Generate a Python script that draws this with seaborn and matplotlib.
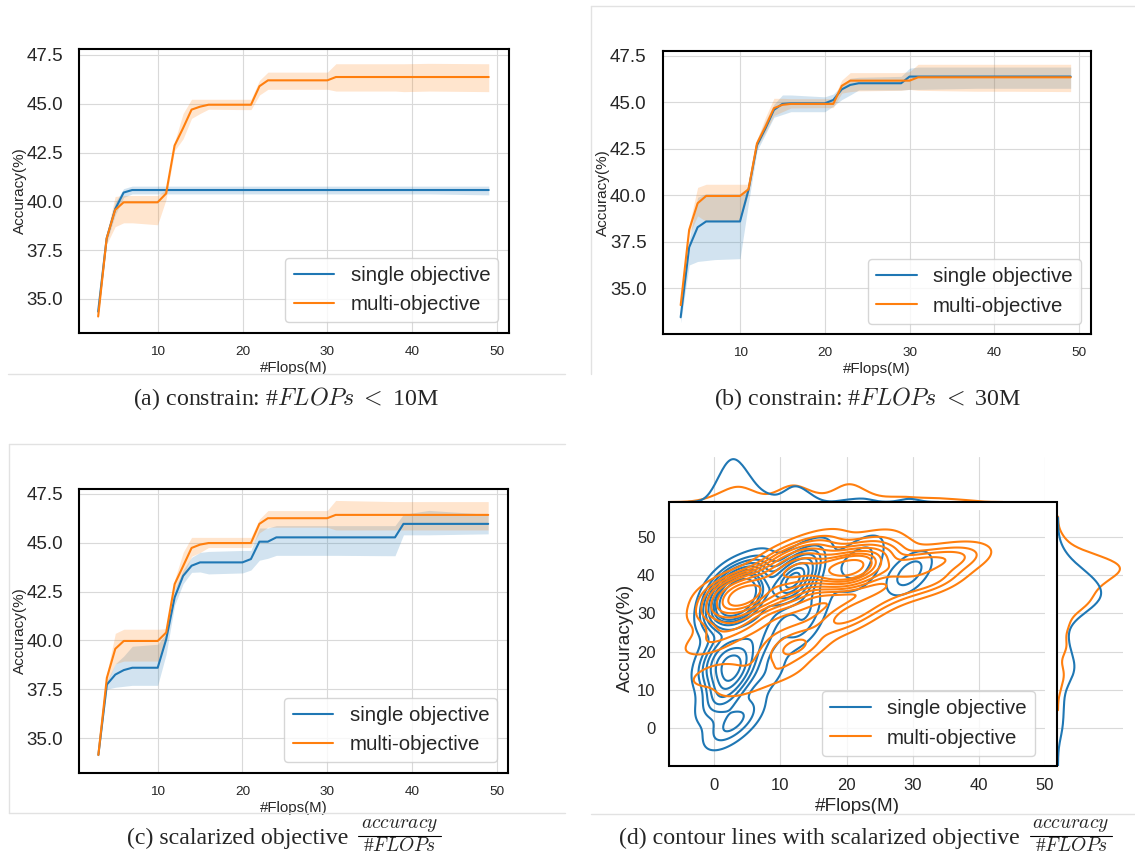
import matplotlib
matplotlib.use("Agg")
import matplotlib.pyplot as plt
from matplotlib.lines import Line2D
from matplotlib.patches import Rectangle
import seaborn as sns
import pandas as pd

# x positions (#Flops in M) where the accuracy curves change slope
FLOPS = [3, 4, 5, 6, 7, 10, 11, 12, 13, 14, 15, 16, 20, 21, 22, 23, 24, 29, 30, 31, 38, 39, 42, 49]

# (a) constrain: #FLOPs < 10M
A_SINGLE_MEAN = [34.35, 38.1, 39.6, 40.45, 40.58, 40.58, 40.58, 40.58, 40.58, 40.58, 40.58, 40.58,
                 40.58, 40.58, 40.58, 40.58, 40.58, 40.58, 40.58, 40.58, 40.58, 40.58, 40.58, 40.58]
A_SINGLE_LO = [34.2, 37.9, 39.3, 40.2, 40.38, 40.38, 40.38, 40.38, 40.38, 40.38, 40.38, 40.38,
               40.38, 40.38, 40.38, 40.38, 40.38, 40.38, 40.38, 40.38, 40.38, 40.38, 40.38, 40.33]
A_SINGLE_HI = [34.5, 38.3, 39.95, 40.65, 40.78, 40.78, 40.78, 40.78, 40.78, 40.78, 40.78, 40.78,
               40.78, 40.78, 40.78, 40.78, 40.78, 40.78, 40.78, 40.78, 40.78, 40.78, 40.78, 40.78]
A_MULTI_MEAN = [34.1, 38.1, 39.56, 39.95, 39.95, 39.95, 40.4, 42.86, 43.75, 44.7, 44.85, 44.95,
                44.95, 44.95, 45.9, 46.2, 46.2, 46.2, 46.2, 46.37, 46.37, 46.37, 46.37, 46.37]
A_MULTI_LO = [33.95, 37.8, 38.7, 38.9, 38.9, 38.8, 40.1, 42.6, 43.2, 44.25, 44.5, 44.72,
              44.7, 44.7, 45.45, 45.74, 45.74, 45.74, 45.74, 45.65, 45.65, 45.62, 45.65, 45.62]
A_MULTI_HI = [34.3, 38.35, 40.25, 40.3, 40.3, 40.3, 40.6, 43.05, 44.5, 45.23, 45.23, 45.23,
              45.23, 45.23, 46.2, 46.62, 46.62, 46.62, 46.62, 47.05, 47.05, 47.05, 47.07, 47.05]

# (b) constrain: #FLOPs < 30M
B_SINGLE_MEAN = [33.45, 37.21, 38.29, 38.6, 38.6, 38.6, 40.3, 42.7, 43.6, 44.6, 44.92, 44.95,
                 44.95, 45.13, 45.7, 45.94, 46.03, 46.03, 46.39, 46.39, 46.39, 46.39, 46.39, 46.39]
B_SINGLE_LO = [33.15, 36.26, 36.45, 36.5, 36.55, 36.6, 39.6, 42.4, 43.3, 44.2, 44.35, 44.5,
               44.5, 44.8, 45.15, 45.4, 45.67, 45.67, 45.7, 45.7, 45.76, 45.76, 45.76, 45.76]
B_SINGLE_HI = [33.7, 37.6, 39.9, 40.1, 40.1, 40.1, 40.45, 43.0, 44.0, 44.9, 45.4, 45.4,
               45.3, 45.45, 45.9, 46.3, 46.35, 46.4, 46.84, 46.9, 46.9, 46.9, 46.9, 46.9]
B_MULTI_MEAN = [34.1, 38.15, 39.58, 39.97, 39.97, 39.97, 40.33, 42.8, 43.7, 44.69, 44.87, 44.92,
                44.92, 44.92, 45.89, 46.17, 46.17, 46.17, 46.17, 46.35, 46.35, 46.35, 46.35, 46.35]
B_MULTI_LO = [33.95, 37.9, 38.9, 38.6, 38.6, 38.6, 40.1, 42.6, 43.4, 44.3, 44.5, 44.7,
              44.72, 44.72, 45.5, 45.58, 45.62, 45.65, 45.7, 45.65, 45.6, 45.6, 45.6, 45.58]
B_MULTI_HI = [34.3, 38.4, 40.43, 40.6, 40.6, 40.6, 40.6, 43.0, 44.2, 45.22, 45.22, 45.2,
              45.2, 45.2, 46.2, 46.6, 46.6, 46.6, 46.65, 47.05, 47.05, 47.05, 47.05, 47.05]

# (c) scalarized objective accuracy / #FLOPs
C_SINGLE_MEAN = [34.14, 37.74, 38.25, 38.48, 38.6, 38.6, 40.05, 42.2, 43.3, 43.82, 43.99, 43.99,
                 43.99, 44.16, 45.05, 45.05, 45.27, 45.27, 45.27, 45.27, 45.27, 45.96, 45.96, 45.96]
C_SINGLE_LO = [34.0, 37.5, 37.6, 37.65, 37.7, 37.7, 39.3, 41.8, 42.9, 43.48, 43.5, 43.4,
               43.45, 43.6, 44.1, 44.2, 44.35, 44.35, 44.35, 44.35, 44.33, 45.4, 45.4, 45.45]
C_SINGLE_HI = [34.3, 37.9, 38.8, 39.2, 39.7, 39.8, 40.35, 42.6, 43.6, 44.25, 44.5, 44.55,
               44.6, 44.6, 45.75, 45.75, 45.87, 45.87, 45.87, 45.87, 45.87, 46.45, 46.65, 46.45]
C_MULTI_MEAN = [34.14, 38.08, 39.57, 39.97, 39.97, 39.97, 40.4, 42.88, 43.8, 44.73, 44.9, 44.98,
                44.98, 44.98, 45.96, 46.25, 46.25, 46.25, 46.25, 46.42, 46.42, 46.42, 46.42, 46.42]
C_MULTI_LO = [34.0, 37.8, 38.8, 38.94, 38.94, 38.94, 40.1, 42.6, 43.3, 44.3, 44.5, 44.75,
              44.75, 44.75, 45.5, 45.79, 45.79, 45.79, 45.79, 45.65, 45.65, 45.65, 45.65, 45.65]
C_MULTI_HI = [34.3, 38.3, 40.36, 40.57, 40.57, 40.57, 40.6, 43.1, 44.5, 45.27, 45.27, 45.27,
              45.27, 45.27, 46.2, 46.64, 46.64, 46.64, 46.64, 47.16, 47.1, 47.1, 47.1, 47.1]

# (d) sampled architectures (flops, accuracy) for the density contours
SINGLE_FLOPS = [1, 2, 3, 4, 5, 3, 4, 2, 6, 5, 3, 4, 1, 6, 2, 5, 3, 4, 2, 5, 3, 4, 2, 4,
                1, 2, 3, 2, 1, 3, 4, 2, 0, 3, 1, 4,
                11, 12, 13, 12, 11, 13, 12, 12, 11,
                20, 22, 23,
                29, 30,
                1, 3, 5, 0, 2,
                7, 8, 6, 9, 8, 14, 15, 14, 13, 6]
SINGLE_ACC = [31, 34, 36, 33, 35, 38, 30, 29, 36, 32, 34, 35, 36, 31, 39, 38, 32, 33, 33, 34, 35, 37, 33, 34,
              15, 17, 16, 13, 19, 20, 15, 11, 17, 13, 22, 18,
              38, 40, 38, 36, 41, 42, 39, 38, 37,
              43, 40, 46,
              40, 41,
              -1, 1, 4, 6, 8,
              27, 22, 24, 30, 14, 30, 45, 33, 25, 42]
MULTI_FLOPS = [2, 3, 4, 5, 3, 4, 5, 2, 6, 1, 4, 3, 6, 7,
               11, 12, 13, 14, 12, 11, 13, 10, 15, 12, 14, 9, 16, 11,
               19, 20, 21, 22, 20, 19, 22, 21, 20, 23, 21, 18, 20, 21, 20,
               28, 30, 29,
               33, 36, 38, 26, 34,
               16, 24,
               0, -1, 2, 4, 11, 10, 12, 13, 20, 19, 22, 25, 28, 32, 12, 4]
MULTI_ACC = [33, 35, 34, 36, 31, 38, 33, 36, 35, 31, 32, 37, 39, 33,
             41, 43, 41, 44, 39, 45, 46, 42, 42, 37, 40, 39, 45, 36,
             41, 42, 41, 40, 44, 43, 42, 39, 45, 44, 38, 40, 42, 43, 41,
             42, 43, 41,
             44, 45, 44, 46, 39,
             49, 49,
             14, 22, 27, 11, 20, 15, 24, 21, 30, 27, 31, 34, 36, 38, 33, 27]

LABELS = ["single objective", "multi-objective"]
BLUE, ORANGE = "#1f77b4", "#ff7f0e"
W, H = 1135, 857

sns.set_style("whitegrid")
plt.rcParams["font.family"] = ["Liberation Sans", "DejaVu Sans"]
plt.rcParams["axes.edgecolor"] = "black"
plt.rcParams["grid.color"] = "#d9d9d9"
plt.rcParams["mathtext.fontset"] = "cm"

fig = plt.figure(figsize=(W / 100, H / 100), dpi=100)


def px_axes(left, top, right, bottom):
    return fig.add_axes([left / W, 1 - bottom / H, (right - left) / W, (bottom - top) / H])


def curve_panel(ax, single, multi, xlim, ylim):
    for (mean, lo, hi), color, label in [(single, BLUE, LABELS[0]), (multi, ORANGE, LABELS[1])]:
        ax.fill_between(FLOPS, lo, hi, color=color, alpha=0.2, linewidth=0)
        sns.lineplot(x=FLOPS, y=mean, ax=ax, color=color, label=label, linewidth=1.5)
    ax.set_xlim(*xlim)
    ax.set_ylim(*ylim)
    ax.set_xticks([10, 20, 30, 40, 50])
    ax.tick_params(axis="y", labelsize=13.5, pad=8)
    ax.tick_params(axis="x", labelsize=9.7, pad=6)
    ax.set_xlabel("#Flops(M)", fontsize=10.8, labelpad=2)
    ax.set_ylabel("Accuracy(%)", fontsize=11, labelpad=0)
    for s in ax.spines.values():
        s.set_linewidth(1.5)
    ax.legend(loc="lower right", fontsize=14.7)


ax_a = px_axes(79.3, 49.3, 508.7, 332.7)
curve_panel(ax_a, (A_SINGLE_MEAN, A_SINGLE_LO, A_SINGLE_HI), (A_MULTI_MEAN, A_MULTI_LO, A_MULTI_HI),
            (0.78, 51.35), (33.27, 47.79))
ax_b = px_axes(662.7, 50.7, 1091, 334)
curve_panel(ax_b, (B_SINGLE_MEAN, B_SINGLE_LO, B_SINGLE_HI), (B_MULTI_MEAN, B_MULTI_LO, B_MULTI_HI),
            (0.88, 51.4), (32.55, 47.78))
ax_c = px_axes(79.3, 488.7, 507.7, 772.7)
curve_panel(ax_c, (C_SINGLE_MEAN, C_SINGLE_LO, C_SINGLE_HI), (C_MULTI_MEAN, C_MULTI_LO, C_MULTI_HI),
            (0.75, 51.3), (33.23, 47.76))

# (d) joint density plot with marginals
df = pd.DataFrame({
    "flops": SINGLE_FLOPS + MULTI_FLOPS,
    "acc": SINGLE_ACC + MULTI_ACC,
    "method": [LABELS[0]] * len(SINGLE_FLOPS) + [LABELS[1]] * len(MULTI_FLOPS),
})
pal = {LABELS[0]: BLUE, LABELS[1]: ORANGE}

ax_j = px_axes(669.3, 510, 1045, 766)
ax_top = px_axes(669.3, 457, 1045, 502)
ax_right = px_axes(1058, 510, 1123, 766)

sns.kdeplot(data=df, x="flops", y="acc", hue="method", palette=pal, ax=ax_j,
            legend=False, linewidths=1.5, bw_adjust=0.65)
sns.kdeplot(data=df, x="flops", hue="method", palette=pal, ax=ax_top,
            legend=False, linewidth=1.5, bw_adjust=0.45)
sns.kdeplot(data=df, y="acc", hue="method", palette=pal, ax=ax_right,
            legend=False, linewidth=1.5, bw_adjust=0.6)

ax_j.set_xlim(-6.8, 50.0)
ax_j.set_ylim(-9.95, 57.07)
ax_j.set_xticks([0, 10, 20, 30, 40, 50])
ax_j.set_yticks([0, 10, 20, 30, 40, 50])
ax_j.tick_params(labelsize=12)
ax_j.tick_params(axis="y", pad=6.5)
ax_j.tick_params(axis="x", pad=5.5)
ax_j.set_xlabel("#Flops(M)", fontsize=13.7, labelpad=3)
ax_j.set_ylabel("Accuracy(%)", fontsize=13.8, labelpad=2)
for s in ax_j.spines.values():
    s.set_visible(False)
handles = [Line2D([], [], color=BLUE, lw=1.5), Line2D([], [], color=ORANGE, lw=1.5)]
ax_j.legend(handles, LABELS, loc="lower right", fontsize=14.7)

ax_top.set_xlim(-6.8, 50.0)
ax_top.set_xticks([0, 10, 20, 30, 40, 50])
ax_top.set_ylim(bottom=0)
ax_top.yaxis.grid(False)
ax_top.set(xlabel="", ylabel="")
ax_top.tick_params(labelbottom=False, labelleft=False)

ax_right.set_ylim(-9.95, 57.07)
ax_right.set_yticks([0, 10, 20, 30, 40, 50])
ax_right.set_xlim(left=0)
ax_right.xaxis.grid(False)
ax_right.set(xlabel="", ylabel="")
ax_right.tick_params(labelbottom=False, labelleft=False)
for a in (ax_top, ax_right):
    for s in a.spines.values():
        s.set_visible(False)

fig.add_artist(Rectangle((669.3 / W, 1 - 766 / H), (1056.7 - 669.3) / W, (766 - 502) / H,
                         transform=fig.transFigure, fill=False, edgecolor="black", linewidth=1.5))

# screenshot frame lines
frame = "#e2e2e2"
for (x0, y0), (x1, y1) in [((8, 374.3), (565, 374.3)),
                           ((591, 6), (1135, 6)), ((591, 6), (591, 374)),
                           ((9.3, 444.3), (565, 444.3)), ((9.3, 813), (565, 813)),
                           ((9.3, 444.3), (9.3, 813)),
                           ((591, 813.7), (1135, 813.7))]:
    fig.add_artist(Line2D([x0 / W, x1 / W], [1 - y0 / H, 1 - y1 / H], transform=fig.transFigure,
                          color=frame, linewidth=1))

# captions
cap = dict(va="baseline", fontsize=17.2, family="Liberation Serif")
fig.text(285.5 / W, 1 - 405 / H, r"(a) constrain: #$FLOPs\;<\;$10M", ha="center", **cap)
fig.text(867.7 / W, 1 - 405 / H, r"(b) constrain: #$FLOPs\;<\;$30M", ha="center", **cap)


def frac_caption(lead, left, right, baseline):
    # lead text followed by a stacked fraction accuracy / #FLOPs
    fig.text(left - 10 / W, 1 - baseline / H, lead, ha="right", **cap)
    mid = (left + right) / 2
    bar = 1 - (baseline - 8) / H
    fig.add_artist(Line2D([left, right], [bar, bar], transform=fig.transFigure, color="black", lw=0.8))
    small = dict(ha="center", fontsize=14, family="Liberation Serif")
    fig.text(mid, bar + 1.5 / H, r"$accuracy$", va="bottom", **small)
    fig.text(mid, bar - 1.5 / H, r"#$FLOPs$", va="top", **small)


frac_caption("(c) scalarized objective", 358 / W, 441 / W, 843.7)
frac_caption("(d) contour lines with scalarized objective", 1030 / W, 1112 / W, 843.7)

fig.savefig("out.png", dpi=100, facecolor="white")
